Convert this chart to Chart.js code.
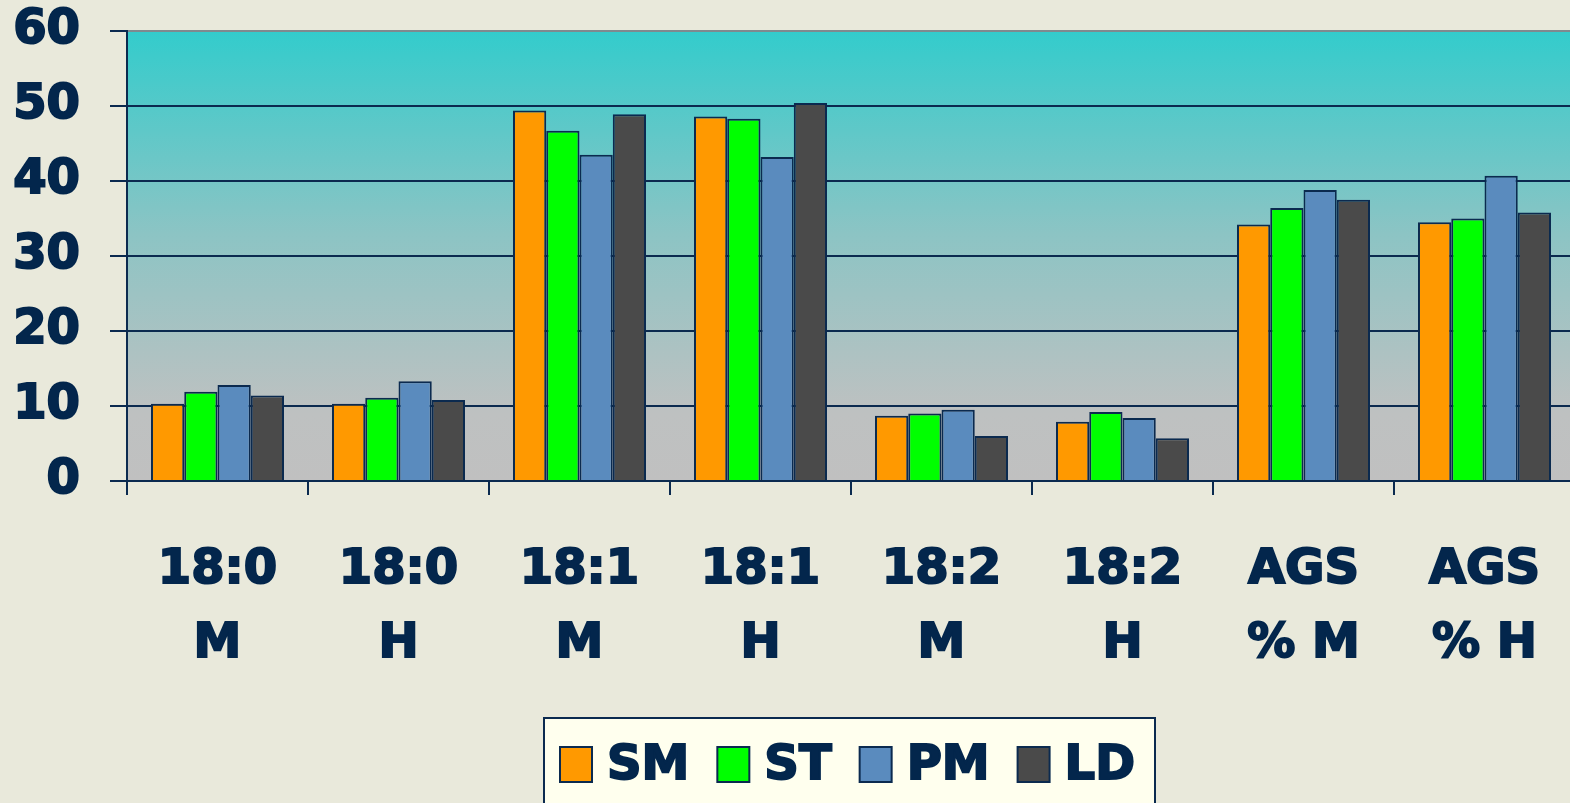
<!DOCTYPE html>
<html>
<head>
<meta charset="utf-8">
<script src="https://cdn.jsdelivr.net/npm/chart.js@4/dist/chart.umd.min.js"></script>
<style>
  html, body { margin: 0; padding: 0; overflow: hidden; background: #E9E9DB; }
  canvas { display: block; }
</style>
</head>
<body>
<canvas id="chart-acidos" width="1575" height="803"></canvas>
<script>
const categories = [
  ["18:0", "M"],
  ["18:0", "H"],
  ["18:1", "M"],
  ["18:1", "H"],
  ["18:2", "M"],
  ["18:2", "H"],
  ["AGS", "% M"],
  ["AGS", "% H"],
];

const yTicks = [0, 10, 20, 30, 40, 50, 60];

const smValues = [10.3, 10.3, 49.4, 48.6, 8.7, 7.9, 34.2, 34.5];
const stValues = [11.9, 11.1, 46.7, 48.3, 9.0, 9.2, 36.4, 35.0];
const pmValues = [12.8, 13.3, 43.5, 43.2, 9.5, 8.4, 38.8, 40.7];
const ldValues = [11.4, 10.8, 48.9, 50.4, 6.0, 5.7, 37.5, 35.8];

const colors = {
  orange: "#FF9900",
  green: "#00FF00",
  blue: "#5A8BBE",
  gray: "#4A4A4A",
  navy: "#0B2A4F",
  text: "#03264C",
};

const font = "'DejaVu Sans', sans-serif";

const chartData = [
  { label: "SM", data: smValues, backgroundColor: colors.orange },
  { label: "ST", data: stValues, backgroundColor: colors.green },
  { label: "PM", data: pmValues, backgroundColor: colors.blue },
  { label: "LD", data: ldValues, backgroundColor: colors.gray },
].map((ds) => ({
  ...ds,
  borderColor: colors.navy,
  borderWidth: 2,
  borderSkipped: "bottom",
  categoryPercentage: 0.735,
  barPercentage: 1.0,
}));

// fondo y degradado del area del grafico
const backgroundPlugin = {
  id: "fondo",
  beforeDraw(chart) {
    const { ctx, chartArea: a } = chart;
    ctx.save();
    ctx.fillStyle = "#E9E9DB";
    ctx.fillRect(0, 0, chart.width, chart.height);
    const g = ctx.createLinearGradient(0, a.top, 0, a.bottom);
    g.addColorStop(0, "#33CCCC");
    g.addColorStop(0.45, "#8CC4C4");
    g.addColorStop(0.85, "#BEC1C1");
    g.addColorStop(1, "#C0C0C0");
    ctx.fillStyle = g;
    ctx.fillRect(a.left, a.top, a.right - a.left, a.bottom - a.top);
    ctx.restore();
  },
};

// leyenda con recuadro, abajo al centro
const legendPlugin = {
  id: "leyenda",
  afterDraw(chart) {
    const { ctx } = chart;
    ctx.save();
    ctx.fillStyle = "#FFFFEE";
    ctx.strokeStyle = colors.navy;
    ctx.lineWidth = 2;
    ctx.fillRect(544, 718, 611, 100);
    ctx.strokeRect(544, 718, 611, 100);

    ctx.font = "bold 48px " + font;
    ctx.textBaseline = "middle";
    let x = 560;
    chart.data.datasets.forEach((ds) => {
      ctx.fillStyle = ds.backgroundColor;
      ctx.fillRect(x, 747, 32, 35);
      ctx.strokeStyle = colors.navy;
      ctx.lineWidth = 2;
      ctx.strokeRect(x, 747, 32, 35);
      x += 32 + 15;
      ctx.fillStyle = colors.text;
      ctx.strokeStyle = colors.text;
      ctx.lineWidth = 2;
      ctx.fillText(ds.label, x, 767);
      ctx.strokeText(ds.label, x, 767);
      x += ctx.measureText(ds.label).width + 28;
    });
    ctx.restore();
  },
};

function renderChartAcidos() {
  const config = {
    type: "bar",
    data: {
      labels: categories,
      datasets: chartData,
    },
    options: {
      responsive: false,
      animation: false,
      layout: { padding: { top: 31, left: 0, right: 0, bottom: 0 } },
      plugins: {
        legend: { display: false },
        tooltip: { enabled: false },
      },
      scales: {
        x: {
          grid: {
            offset: true,
            drawOnChartArea: false,
            drawTicks: true,
            tickLength: 14,
            color: colors.navy,
            lineWidth: 2,
          },
          border: { color: colors.navy, width: 2 },
          ticks: {
            color: colors.text,
            textStrokeColor: colors.text,
            textStrokeWidth: 2,
            font: { family: font, size: 48, weight: "bold", lineHeight: 1.55 },
            padding: 38,
            maxRotation: 0,
            autoSkip: false,
          },
          afterFit(scale) {
            scale.height = 322;
            scale.paddingLeft = 0;
            scale.paddingRight = 0;
          },
        },
        y: {
          min: 0,
          max: 60,
          afterBuildTicks(scale) {
            scale.ticks = yTicks.map((v) => ({ value: v }));
          },
          grid: {
            color: (c) => (c.tick && c.tick.value === 60 ? "#7F8A8F" : colors.navy),
            lineWidth: 2,
            tickLength: 17,
            tickColor: colors.navy,
          },
          border: { color: colors.navy, width: 2 },
          ticks: {
            color: colors.text,
            textStrokeColor: colors.text,
            textStrokeWidth: 2,
            font: { family: font, size: 48, weight: "bold", lineHeight: 1 },
            padding: 30,
          },
          afterFit(scale) {
            scale.width = 127;
            scale.paddingTop = 0;
            scale.paddingBottom = 0;
          },
        },
      },
    },
    plugins: [backgroundPlugin, legendPlugin],
  };

  const myChart = new Chart(document.getElementById("chart-acidos"), config);
}

renderChartAcidos();
</script>
</body>
</html>
